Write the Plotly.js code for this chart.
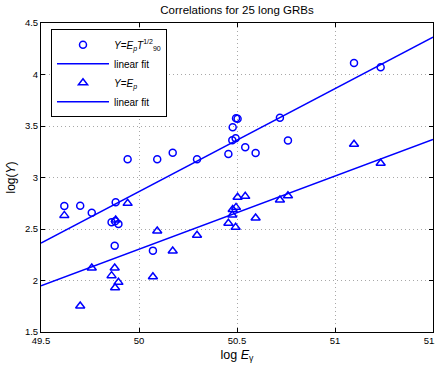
<!DOCTYPE html>
<html>
<head>
<meta charset="utf-8">
<script src="https://cdn.plot.ly/plotly-3.0.1.min.js"></script>
<style>html,body{margin:0;padding:0;background:#fff}#plot{width:435px;height:366px}</style>
</head>
<body>
<div id="plot"></div>
<script>
// log E_gamma for the 25 GRBs
const logEg = [49.619, 49.700, 49.759, 49.860, 49.876, 49.878, 49.881, 49.895, 49.942, 50.071,
               50.093, 50.172, 50.296, 50.456, 50.476, 50.478, 50.493, 50.495, 50.503, 50.542,
               50.595, 50.719, 50.760, 51.097, 51.233];
// log(Ep * T90^1/2)
const logEpT = [2.723, 2.726, 2.658, 2.565, 2.338, 2.575, 2.760, 2.548, 3.177, 2.290,
                3.177, 3.240, 3.177, 3.228, 3.361, 3.487, 3.380, 3.575, 3.570, 3.293,
                3.238, 3.580, 3.360, 4.112, 4.070];
// log(Ep)
const logEp = [2.632, 1.752, 2.121, 2.047, 2.121, 1.930, 2.587, 1.982, 2.749, 2.037,
               2.480, 2.286, 2.440, 2.555, 2.636, 2.690, 2.516, 2.710, 2.808, 2.817,
               2.607, 2.782, 2.823, 3.322, 3.138];
// fitted lines (end points)
const fitX = [49.5, 51.5];
const fitY1 = [2.363, 4.363];
const fitY2 = [1.949, 3.369];
// tick labels
const xTicks = [49.5, 50, 50.5, 51, 51.5];
const xTickText = ['49.5', '50', '50.5', '51', '51.5'];
const yTicks = [1.5, 2, 2.5, 3, 3.5, 4, 4.5];
const yTickText = ['1.5', '2', '2.5', '3', '3.5', '4', '4.5'];

const blue = '#0000ff';
const FONT = 'Liberation Sans, Arial, Helvetica, sans-serif';

const traces = [
  {x: logEg, y: logEpT, mode: 'markers', type: 'scatter',
   name: '<i>Y</i>=<i>E<sub>p</sub>T</i><sup>1/2</sup><sub>90</sub>',
   marker: {symbol: 'circle-open', size: 7, color: blue, line: {width: 1.5, color: blue}}},
  {x: fitX, y: fitY1, mode: 'lines', type: 'scatter', name: 'linear fit',
   line: {color: blue, width: 1.5}},
  {x: logEg, y: logEp, mode: 'markers', type: 'scatter',
   name: '<i>Y</i>=<i>E<sub>p</sub></i>',
   marker: {symbol: 'triangle-up-open', size: 8, color: blue, line: {width: 1.5, color: blue}}},
  {x: fitX, y: fitY2, mode: 'lines', type: 'scatter', name: 'linear fit',
   line: {color: blue, width: 1.5}}
];

const axisCommon = {
  showline: true, linecolor: '#000', linewidth: 1, mirror: 'ticks',
  ticks: 'inside', ticklen: 4, tickcolor: '#000', ticklabeloverflow: 'allow',
  showgrid: true, gridcolor: '#a8a8a8', griddash: '1px,3px', gridwidth: 1,
  zeroline: false, tickfont: {family: FONT, size: 9.5, color: '#000'}
};

const layout = {
  width: 435, height: 366,
  margin: {l: 41, r: 2, t: 23, b: 34},
  paper_bgcolor: '#fff', plot_bgcolor: '#fff',
  font: {family: FONT, color: '#000'},
  title: {text: 'Correlations for 25 long GRBs', font: {family: FONT, size: 11.5, color: '#000'},
          xref: 'paper', x: 0.5, xanchor: 'center', yref: 'container', y: 0.972, yanchor: 'middle'},
  xaxis: Object.assign({}, axisCommon, {
    range: [49.5, 51.5], tickmode: 'array', tickvals: xTicks, ticktext: xTickText,
    title: {text: 'log <i>E</i><sub>γ</sub>', font: {family: FONT, size: 12.5, color: '#000'}, standoff: 4}
  }),
  yaxis: Object.assign({}, axisCommon, {
    range: [1.5, 4.5], tickmode: 'array', tickvals: yTicks, ticktext: yTickText,
    title: {text: 'log(<i>Y</i>)', font: {family: FONT, size: 12, color: '#000'}, standoff: 6}
  }),
  showlegend: true,
  legend: {x: 0.0255, y: 0.98, xanchor: 'left', yanchor: 'top',
           bgcolor: '#fff', bordercolor: '#000', borderwidth: 1, itemwidth: 52,
           font: {family: FONT, size: 10, color: '#000'}, tracegroupgap: 0}
};

Plotly.newPlot('plot', traces, layout, {staticPlot: true, displayModeBar: false});
</script>
</body>
</html>
